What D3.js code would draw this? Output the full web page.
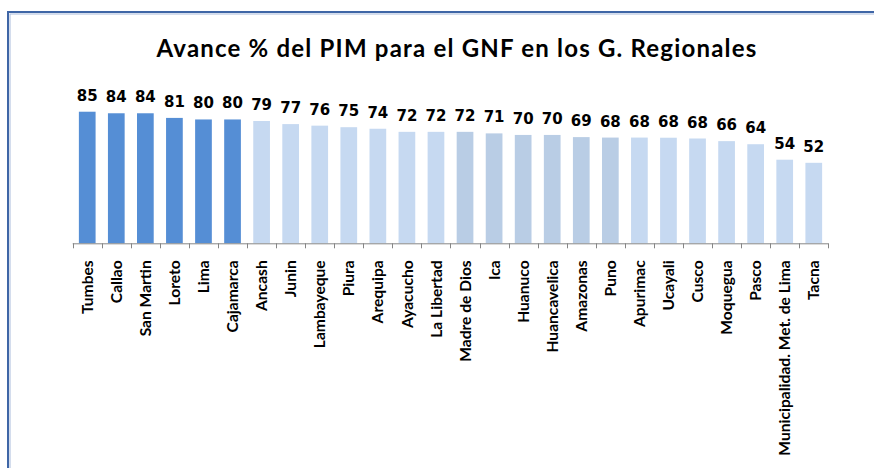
<!DOCTYPE html>
<html>
<head>
<meta charset="utf-8">
<script src="https://cdn.jsdelivr.net/npm/d3@7"></script>
<style>
  html, body { margin: 0; padding: 0; background: #fff; }
  svg { display: block; }
</style>
</head>
<body>
<svg id="chart"></svg>
<script>
const regions = ['Tumbes', 'Callao', 'San Martin', 'Loreto', 'Lima', 'Cajamarca', 'Ancash', 'Junin',
  'Lambayeque', 'Piura', 'Arequipa', 'Ayacucho', 'La Libertad', 'Madre de Dios', 'Ica', 'Huanuco',
  'Huancavelica', 'Amazonas', 'Puno', 'Apurimac', 'Ucayali', 'Cusco', 'Moquegua', 'Pasco',
  'Municipalidad. Met. de Lima', 'Tacna'];
const avance = [85, 84, 84, 81, 80, 80, 79, 77, 76, 75, 74, 72, 72, 72, 71, 70, 70, 68.6, 68.3, 68.3,
  68.2, 67.7, 66, 64, 54, 52];
// 0 = top group, 1 = light, 2 = slightly darker light
const group = [0, 0, 0, 0, 0, 0, 1, 1, 1, 1, 1, 1, 1, 2, 2, 2, 2, 2, 2, 1, 1, 1, 1, 1, 1, 1];
const title = 'Avance % del PIM para el GNF en los G. Regionales';

const width = 874, height = 468;
const colors = ['#558ed5', '#c6d9f1', '#b9cde5'];

const svg = d3.select('#chart').attr('width', width).attr('height', height);

// outer frame (runs off the right and bottom edges)
svg.append('rect').attr('x', 8).attr('y', 12).attr('width', 900).attr('height', 500)
  .attr('fill', 'none').attr('stroke', '#3f66a6').attr('stroke-width', 2);
svg.append('rect').attr('x', 10).attr('y', 14).attr('width', 900).attr('height', 500)
  .attr('fill', 'none').attr('stroke', '#a9bcdc').attr('stroke-width', 1);

svg.append('text').attr('x', 457).attr('y', 57).attr('text-anchor', 'middle')
  .style('font-family', 'Lato, sans-serif').style('font-weight', 'bold').style('font-size', '24px')
  .style('letter-spacing', '1.2px').style('fill', '#000').text(title);

const x = d3.scaleBand().domain(regions).range([72.7, 828.3]).paddingInner(0.425).paddingOuter(0.2125);
const y = d3.scaleLinear().domain([0, 100]).range([243.3, 88.5]);
const rows = regions.map((r, i) => ({ r, v: avance[i], g: group[i] }));

svg.append('g').selectAll('rect').data(rows).enter().append('rect')
  .attr('x', d => x(d.r)).attr('width', x.bandwidth())
  .attr('y', d => y(d.v)).attr('height', d => y(0) - y(d.v))
  .attr('fill', d => colors[d.g]);

svg.append('g').selectAll('text').data(rows).enter().append('text')
  .attr('x', d => x(d.r) + x.bandwidth() / 2).attr('y', d => y(d.v) - 11)
  .attr('text-anchor', 'middle')
  .style('font-family', '"DejaVu Sans", sans-serif').style('font-weight', 'bold').style('font-size', '15px')
  .text(d => d3.format('.0f')(d.v));

// axis line + boundary ticks
const step = x.step();
const bounds = d3.range(regions.length + 1).map(i => 72.7 + i * step);
const axisG = svg.append('g');
axisG.append('line').attr('x1', bounds[0]).attr('x2', bounds[bounds.length - 1])
  .attr('y1', y(0) + 0.5).attr('y2', y(0) + 0.5).attr('stroke', '#868686').attr('stroke-width', 1);
axisG.selectAll('.tk').data(bounds).enter().append('line')
  .attr('x1', d => Math.round(d) + 0.5).attr('x2', d => Math.round(d) + 0.5)
  .attr('y1', y(0)).attr('y2', y(0) + 5).attr('stroke', '#868686');

const labels = svg.append('g').attr('transform', `translate(0,${y(0)})`)
  .call(d3.axisBottom(x).tickSize(0));
labels.select('.domain').remove();
labels.selectAll('text')
  .attr('transform', 'rotate(-90)').attr('x', -17).attr('y', 0).attr('dy', '0.36em')
  .style('text-anchor', 'end')
  .style('font-family', 'Lato, sans-serif').style('font-weight', 'bold').style('font-size', '15.6px')
  .style('fill', '#000');
</script>
</body>
</html>
